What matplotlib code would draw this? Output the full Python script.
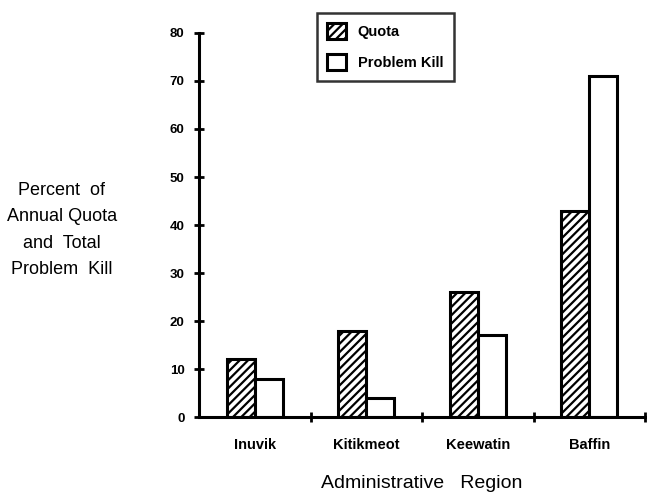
import numpy as np
import matplotlib.pyplot as plt
import matplotlib as mpl

plt.rcParams['font.family'] = ['Liberation Sans', 'DejaVu Sans']
plt.rcParams['hatch.linewidth'] = 1.6

# --- DATA ---
regions = ['Inuvik', 'Kitikmeot', 'Keewatin', 'Baffin']
quota = [12, 18, 26, 43]
problem_kill = [8, 4, 17, 71]
y_ticks = [0, 10, 20, 30, 40, 50, 60, 70, 80]

fig = plt.figure(figsize=(6.47, 4.92), dpi=100)
ax = fig.add_axes([199 / 647, 75 / 492, 446 / 647, 384 / 492])

x = np.arange(len(regions))
w = 0.25
ax.bar(x - w / 2, quota, w, color='white', edgecolor='black', hatch='////',
       linewidth=2.2, label='Quota')
ax.bar(x + w / 2, problem_kill, w, color='white', edgecolor='black',
       linewidth=2.2, label='Problem Kill')

ax.set_xlim(-0.5, 3.5)
ax.set_ylim(0, 80)
ax.set_yticks(y_ticks)
ax.set_yticklabels([str(t) for t in y_ticks], fontweight='bold', fontsize=9.5)

# ticks between categories on x axis, labels centered on categories
ax.set_xticks([0.5, 1.5, 2.5, 3.5])
ax.set_xticklabels([])
ax.set_xticks(x, minor=True)
ax.set_xticklabels(regions, minor=True, fontweight='bold', fontsize=10.5)
ax.tick_params(axis='x', which='minor', length=0, pad=15)
ax.tick_params(axis='x', which='major', direction='inout', length=7, width=2)
ax.tick_params(axis='y', direction='inout', length=7, width=2, pad=7)

for s in ['top', 'right']:
    ax.spines[s].set_visible(False)
for s in ['left', 'bottom']:
    ax.spines[s].set_linewidth(2.2)

ax.set_xlabel('Administrative   Region', fontsize=14, labelpad=17)
fig.text(62 / 647, 1 - 230 / 492, 'Percent  of\nAnnual Quota\nand  Total\nProblem  Kill',
         ha='center', va='center', fontsize=13, linespacing=1.7)

leg = fig.legend(loc='upper left', bbox_to_anchor=(317 / 647, 1 - 13 / 492),
                 bbox_transform=fig.transFigure, borderaxespad=0, frameon=True,
                 fancybox=False, edgecolor='black', handlelength=1.3,
                 handleheight=1.3, prop={'weight': 'bold', 'size': 10.5},
                 borderpad=0.7, labelspacing=1.05, handletextpad=0.8)
leg.get_frame().set_linewidth(1.8)

plt.savefig('out.png', dpi=100)
